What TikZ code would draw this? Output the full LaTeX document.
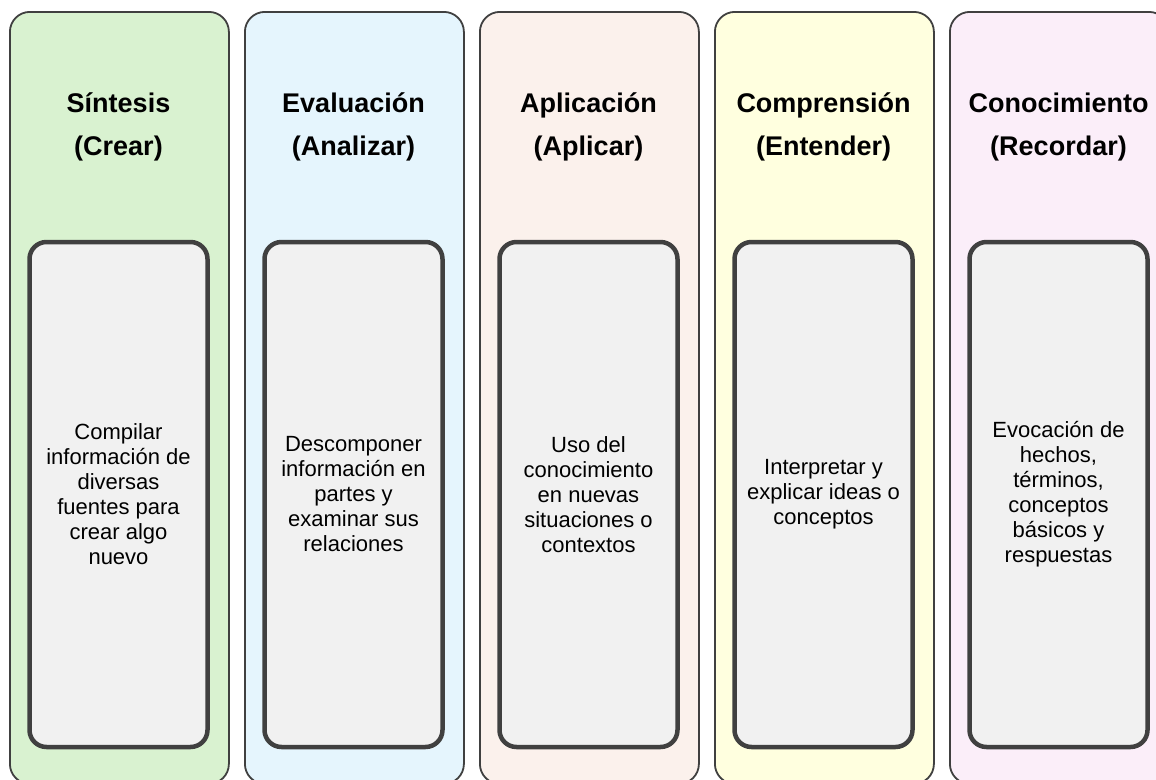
\documentclass[tikz,border=0pt]{standalone}
\usepackage{fontspec}
\setmainfont{Liberation Sans}
\definecolor{edge}{HTML}{404040}
\definecolor{cardfill}{HTML}{F1F1F1}
\definecolor{colA}{HTML}{D9F2D0}
\definecolor{colB}{HTML}{E5F5FD}
\definecolor{colC}{HTML}{FBF1EC}
\definecolor{colD}{HTML}{FFFFDF}
\definecolor{colE}{HTML}{FBEEF9}
\tikzset{
  column/.style={draw=edge, line width=1.8pt, rounded corners=20pt,
    anchor=north west, inner sep=0pt, minimum width=219pt, minimum height=772pt},
  card/.style={draw=edge, fill=cardfill, line width=4.5pt, rounded corners=17pt,
    inner sep=0pt, minimum width=178pt, minimum height=505pt},
  heading/.style={font=\bfseries\fontsize{27}{43}\selectfont, align=center, inner sep=0pt},
  cardtext/.style={font=\fontsize{22}{25}\selectfont, align=center, inner sep=0pt}
}
\begin{document}
\begin{tikzpicture}[x=1pt,y=-1pt]
\useasboundingbox (0,0) rectangle (1156,779);
\clip (0,0) rectangle (1156,779);
\fill[white] (0,0) rectangle (1156,779);

% columns: left edge, fill, heading, description
\foreach \i/\xl/\col/\head/\desc in {
  1/9/colA/{Síntesis\\(Crear)}/{Compilar\\información de\\diversas\\fuentes para\\crear algo\\nuevo},
  2/244/colB/{Evaluación\\(Analizar)}/{Descomponer\\información en\\partes y\\examinar sus\\relaciones},
  3/479/colC/{Aplicación\\(Aplicar)}/{Uso del\\conocimiento\\en nuevas\\situaciones o\\contextos},
  4/714/colD/{Comprensión\\(Entender)}/{Interpretar y\\explicar ideas o\\conceptos},
  5/949/colE/{Conocimiento\\(Recordar)}/{Evocación de\\hechos,\\términos,\\conceptos\\básicos y\\respuestas}}
{
  \node[column, fill=\col] (col\i) at (\xl,11) {};
  \node[heading] (head\i) at (\xl+109.5,127) {\head};
  \node[card] (card\i) at (\xl+109.5,494.5) {};
  \node[cardtext] (text\i) at (card\i.center) {\desc};
}
\end{tikzpicture}
\end{document}
